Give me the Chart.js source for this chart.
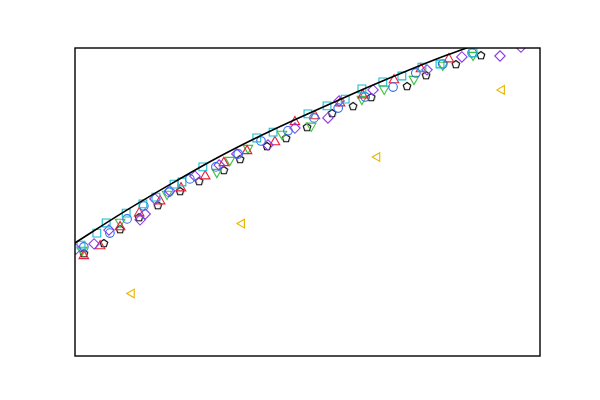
<!DOCTYPE html>
<html>
<head>
<meta charset="utf-8">
<script src="https://cdn.jsdelivr.net/npm/chart.js@4"></script>
<style>
html,body{margin:0;padding:0;background:#fff;}
#wrap{width:600px;height:400px;}
</style>
</head>
<body>
<div id="wrap"><canvas id="c" width="600" height="400"></canvas></div>
<script>
// Reference curve
const curveX = [0, 10, 20, 30, 40, 50, 60, 70, 80, 90, 100];
const curveY = [36.7, 46.3, 55.3, 63.9, 71.6, 78.6, 85.3, 91.7, 97.7, 103.0, 108.0];

// Series (x, y pairs)
const squaresX = [1.3, 4.7, 6.7, 11.0, 14.6, 17.4, 21.3, 23.0, 27.5, 39.1, 42.6, 50.1, 54.2, 58.1, 61.7, 66.2, 70.3, 74.6, 78.5, 85.6];
const squaresY = [36.0, 39.9, 43.2, 46.4, 49.4, 51.6, 55.8, 56.5, 61.4, 70.8, 72.7, 78.6, 81.2, 83.4, 86.7, 89.0, 90.9, 93.8, 94.8, 98.4];

const circlesX = [1.9, 7.5, 11.2, 14.8, 20.2, 24.7, 30.3, 35.1, 40.0, 45.8, 51.4, 56.6, 62.4, 68.4, 73.3, 79.1, 85.4];
const circlesY = [35.4, 39.9, 44.5, 48.7, 53.2, 57.5, 61.4, 65.6, 69.8, 73.1, 77.3, 80.5, 84.1, 87.3, 91.9, 94.8, 98.4];

const diamondsX = [0.2, 4.1, 7.3, 14.0, 15.1, 17.2, 20.4, 25.8, 31.0, 34.8, 41.5, 47.3, 54.4, 56.8, 64.1, 75.7, 83.2, 91.4, 95.9];
const diamondsY = [34.7, 36.4, 40.9, 44.2, 46.1, 51.0, 53.6, 58.4, 62.0, 65.6, 68.5, 74.0, 77.3, 82.8, 86.4, 92.9, 97.1, 97.4, 100.3];

const trianglesX = [1.9, 5.4, 9.7, 13.8, 18.3, 22.8, 28.0, 32.0, 37.0, 43.0, 47.3, 51.6, 57.0, 61.9, 68.6, 74.4, 80.4];
const trianglesY = [32.5, 35.7, 41.9, 46.4, 50.3, 54.5, 58.4, 62.7, 66.6, 69.5, 76.0, 77.9, 82.1, 84.7, 89.6, 93.2, 96.4];

const downX = [1.5, 9.7, 19.8, 30.5, 33.3, 37.2, 44.5, 50.8, 61.7, 66.5, 72.9, 79.1, 85.6];
const downY = [34.4, 43.5, 52.6, 59.7, 63.6, 67.5, 72.1, 74.7, 83.4, 86.7, 89.9, 94.5, 97.7];

const pentagonsX = [1.9, 6.2, 9.7, 13.8, 17.8, 22.6, 26.7, 32.0, 35.5, 41.3, 45.4, 49.9, 55.3, 59.8, 63.7, 71.4, 75.5, 81.9, 87.3];
const pentagonsY = [33.4, 36.7, 41.2, 45.1, 49.0, 53.6, 56.8, 60.4, 64.0, 68.2, 70.8, 74.4, 78.9, 81.2, 84.1, 87.7, 91.2, 94.8, 97.7];

const leftX = [12.2, 35.9, 65.0, 91.8];
const leftY = [20.3, 43.0, 64.6, 86.4];

function pts(xs, ys) { return xs.map((x, i) => ({x: x, y: ys[i]})); }

// pentagon marker
function pentagon(color, size) {
  const cv = document.createElement('canvas');
  cv.width = size; cv.height = size;
  const g = cv.getContext('2d');
  const r = size / 2 - 1;
  const cx = size / 2, cy = size / 2 + 0.5;
  g.beginPath();
  for (let k = 0; k < 5; k++) {
    const a = -Math.PI / 2 + k * 2 * Math.PI / 5;
    const px = cx + r * Math.cos(a), py = cy + r * Math.sin(a);
    if (k === 0) g.moveTo(px, py); else g.lineTo(px, py);
  }
  g.closePath();
  g.strokeStyle = color; g.lineWidth = 1.1;
  g.stroke();
  return cv;
}

function scat(label, xs, ys, color, style, radius, rotation) {
  return {
    type: 'scatter', label: label, data: pts(xs, ys),
    pointStyle: style, pointRadius: radius, pointHoverRadius: radius,
    pointRotation: rotation || 0,
    borderColor: color, backgroundColor: 'rgba(0,0,0,0)',
    pointBorderWidth: 1.1, borderWidth: 1.1, showLine: false, clip: 0
  };
}

const frame = {
  id: 'frame',
  afterDraw(chart) {
    const a = chart.chartArea, ctx = chart.ctx;
    ctx.save();
    ctx.strokeStyle = '#000'; ctx.lineWidth = 1.4;
    ctx.strokeRect(a.left, a.top, a.right - a.left, a.bottom - a.top);
    ctx.restore();
  }
};

new Chart(document.getElementById('c'), {
  type: 'scatter',
  data: {
    datasets: [
      {
        type: 'line', label: 'curve', data: pts(curveX, curveY),
        borderColor: '#000', borderWidth: 1.6, pointRadius: 0,
        cubicInterpolationMode: 'monotone', fill: false, clip: 0
      },
      scat('squares', squaresX, squaresY, '#17bccf', 'rect', 5.5),
      scat('circles', circlesX, circlesY, '#2f6bf0', 'circle', 4.3),
      scat('diamonds', diamondsX, diamondsY, '#8a3ce8', 'rectRot', 5.2),
      scat('triangles', trianglesX, trianglesY, '#e8203a', 'triangle', 5.5),
      scat('down', downX, downY, '#3cc43c', 'triangle', 5.5, 180),
      scat('pentagons', pentagonsX, pentagonsY, '#000', pentagon('#000', 10), 5),
      scat('left', leftX, leftY, '#eab400', 'triangle', 5, -90)
    ]
  },
  options: {
    responsive: false, animation: false,
    layout: { padding: { left: 75, right: 60, top: 48, bottom: 44 } },
    plugins: { legend: { display: false }, tooltip: { enabled: false } },
    scales: {
      x: { type: 'linear', min: 0, max: 100, display: false },
      y: { type: 'linear', min: 0, max: 100, display: false }
    }
  },
  plugins: [frame]
});
</script>
</body>
</html>
